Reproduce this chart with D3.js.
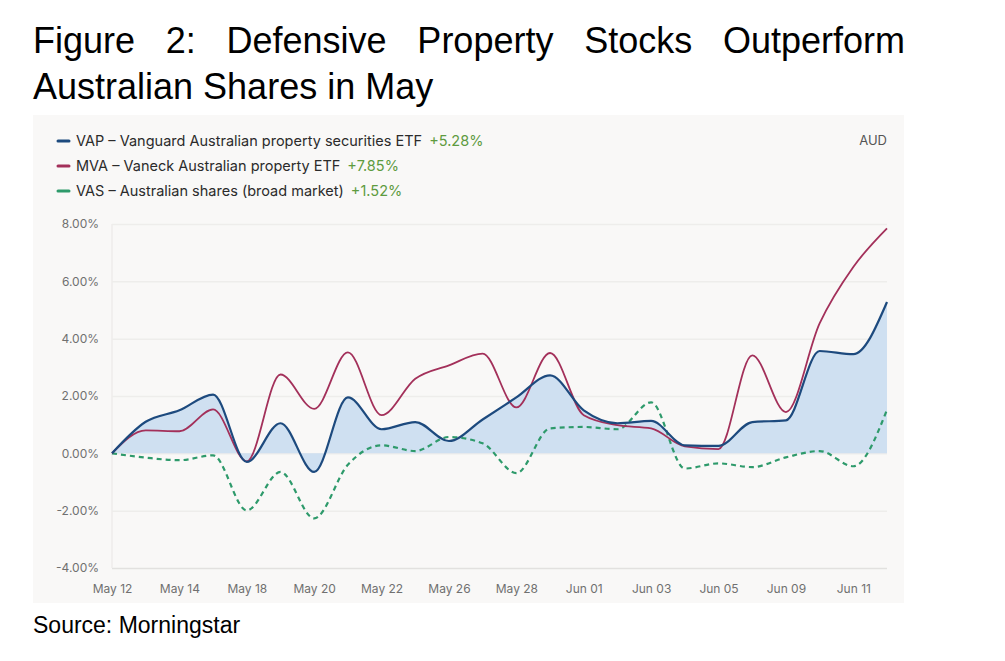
<!DOCTYPE html>
<html lang="en">
<head>
  <meta charset="UTF-8" />
  <title>Figure 2: Defensive Property Stocks Outperform Australian Shares in May</title>
  <script src="https://cdn.jsdelivr.net/npm/d3@7"></script>
  <style>
    html, body { margin: 0; padding: 0; background: #fff; overflow: hidden; }
    svg { display: block; }
  </style>
</head>
<body>
  <script>
    // trading days shown on the x axis (every second one is labelled)
    const dates = ["May 12", "May 13", "May 14", "May 15", "May 18", "May 19", "May 20", "May 21",
                   "May 22", "May 23", "May 26", "May 27", "May 28", "May 29", "Jun 01", "Jun 02",
                   "Jun 03", "Jun 04", "Jun 05", "Jun 06", "Jun 09", "Jun 10", "Jun 11", "Jun 12"];
    const tickDates = ["May 12", "May 14", "May 18", "May 20", "May 22", "May 26", "May 28",
                       "Jun 01", "Jun 03", "Jun 05", "Jun 09", "Jun 11"];
    const yTicks = [-4, -2, 0, 2, 4, 6, 8];

    // cumulative return, %
    const vap = [0, 1.1, 1.5, 2.05, -0.3, 1.05, -0.65, 1.95, 0.84, 1.09, 0.43, 1.18,
                 1.95, 2.72, 1.5, 1.05, 1.13, 0.28, 0.26, 1.09, 1.15, 3.57, 3.46, 5.28];
    const mva = [0, 0.8, 0.77, 1.53, -0.28, 2.75, 1.55, 3.52, 1.33, 2.6, 3.07, 3.48,
                 1.6, 3.5, 1.33, 0.98, 0.87, 0.24, 0.15, 3.42, 1.44, 4.53, 6.5, 7.85];
    const vas = [0, -0.15, -0.24, -0.07, -1.99, -0.65, -2.27, -0.4, 0.28, 0.08, 0.57, 0.35,
                 -0.69, 0.87, 0.92, 0.84, 1.78, -0.53, -0.35, -0.48, -0.14, 0.08, -0.45, 1.52];

    const seriesNames = ["VAP – Vanguard Australian property securities ETF",
                         "MVA – Vaneck Australian property ETF",
                         "VAS – Australian shares (broad market)"];
    const seriesChange = ["+5.28%", "+7.85%", "+1.52%"];
    const colors = ["#1d4a7e", "#a3305a", "#2e9a6b"];

    const W = 1005, H = 661;
    const svg = d3.select("body").append("svg").attr("width", W).attr("height", H);

    // ---- title, justified like the original ----
    const titleLines = ["Figure 2: Defensive Property Stocks Outperform", "Australian Shares in May"];
    const titleLeft = 33, titleRight = 905;
    titleLines.forEach((line, i) => {
      const t = svg.append("text")
        .attr("x", titleLeft).attr("y", 53 + i * 45.5)
        .attr("font-family", "Liberation Sans, Arial, sans-serif")
        .attr("font-size", 36).attr("fill", "#000")
        .text(line);
      if (i === 0) {
        const extra = (titleRight - titleLeft - t.node().getComputedTextLength()) / (line.split(" ").length - 1);
        t.attr("word-spacing", extra);
      }
    });

    svg.append("text")
      .attr("x", 33).attr("y", 633)
      .attr("font-family", "Liberation Sans, Arial, sans-serif")
      .attr("font-size", 23).attr("fill", "#000")
      .text("Source: Morningstar");

    // ---- chart panel ----
    svg.append("rect")
      .attr("x", 33).attr("y", 115).attr("width", 871).attr("height", 488)
      .attr("fill", "#f9f8f7");

    const font = "Inter, 'Open Sans', sans-serif";

    // legend
    const legend = svg.append("g");
    seriesNames.forEach((name, i) => {
      const y = 141 + i * 25;
      legend.append("line")
        .attr("x1", 58).attr("x2", 69).attr("y1", y).attr("y2", y)
        .attr("stroke", colors[i]).attr("stroke-width", 3).attr("stroke-linecap", "round");
      const t = legend.append("text")
        .attr("x", 76).attr("y", y + 5)
        .attr("font-family", font).attr("font-size", 14.5).attr("fill", "#2b2b2b")
        .text(name);
      legend.append("text")
        .attr("x", 76 + t.node().getComputedTextLength() + 7).attr("y", y + 5)
        .attr("font-family", font).attr("font-size", 14.5).attr("fill", "#5e9b3f")
        .text(seriesChange[i]);
    });

    svg.append("text")
      .attr("x", 887).attr("y", 145).attr("text-anchor", "end")
      .attr("font-family", font).attr("font-size", 13).attr("fill", "#555")
      .text("AUD");

    // scales
    const x = d3.scalePoint().domain(dates).range([112, 887]);
    const y = d3.scaleLinear().domain([-4, 8]).range([568, 224]);

    // y grid + labels
    const yAxis = svg.append("g")
      .attr("transform", "translate(112,0)")
      .call(d3.axisLeft(y).tickValues(yTicks).tickSize(-775).tickPadding(13)
        .tickFormat(d => d.toFixed(2) + "%"));
    yAxis.select(".domain").remove();
    yAxis.selectAll(".tick line").attr("stroke", d => d === -4 ? "#e2e1df" : "#eeedeb").attr("stroke-width", 1.5);
    yAxis.selectAll(".tick text")
      .attr("font-family", font).attr("font-size", 12).attr("fill", "#707070");

    // left axis line
    svg.append("line")
      .attr("x1", 112).attr("x2", 112).attr("y1", y(8)).attr("y2", y(-4))
      .attr("stroke", "#eeedeb").attr("stroke-width", 1.5);

    // x axis labels
    const xAxis = svg.append("g")
      .attr("transform", "translate(0,568)")
      .call(d3.axisBottom(x).tickValues(tickDates).tickSize(0).tickPadding(16));
    xAxis.select(".domain").remove();
    xAxis.selectAll(".tick text")
      .attr("font-family", font).attr("font-size", 12).attr("fill", "#707070");

    // area under VAP
    const curve = d3.curveMonotoneX;
    svg.append("path")
      .datum(vap)
      .attr("fill", "#cfe0f1")
      .attr("d", d3.area().curve(curve)
        .x((d, i) => x(dates[i])).y0(y(0)).y1(d => y(d)));

    const line = d3.line().curve(curve).x((d, i) => x(dates[i])).y(d => y(d));

    svg.append("path").datum(vas)
      .attr("fill", "none").attr("stroke", colors[2]).attr("stroke-width", 2.2)
      .attr("stroke-dasharray", "5,4").attr("d", line);
    svg.append("path").datum(mva)
      .attr("fill", "none").attr("stroke", colors[1]).attr("stroke-width", 1.8)
      .attr("d", line);
    svg.append("path").datum(vap)
      .attr("fill", "none").attr("stroke", colors[0]).attr("stroke-width", 2.2)
      .attr("d", line);
  </script>
</body>
</html>
